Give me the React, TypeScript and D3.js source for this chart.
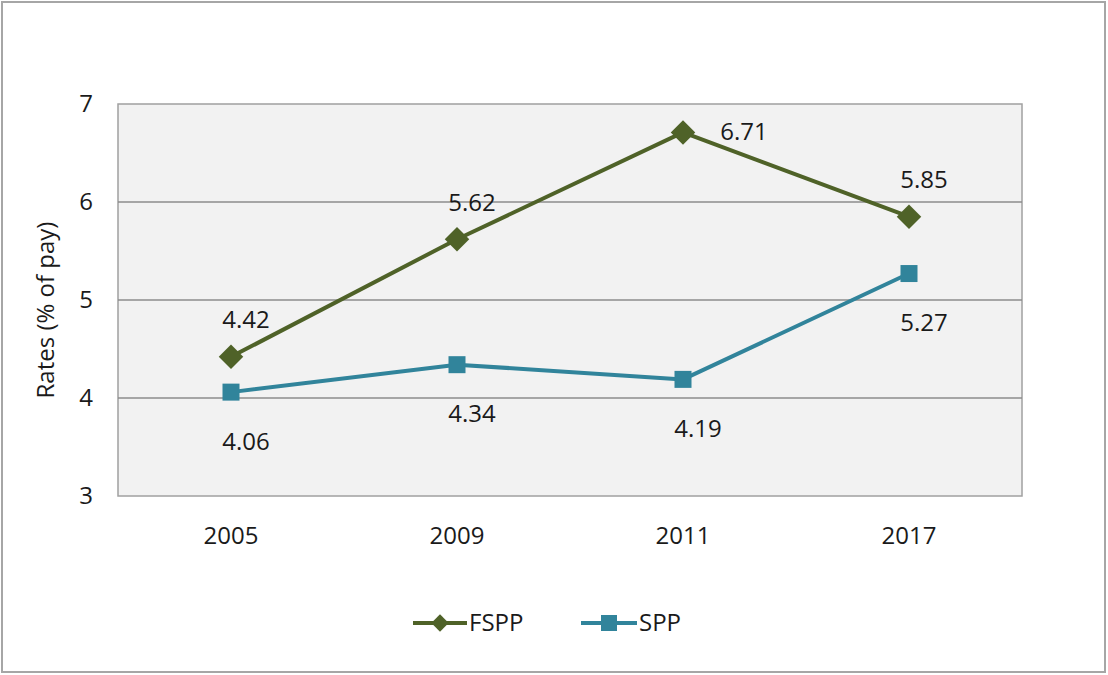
import { useEffect, useRef } from 'react';
import * as d3 from 'd3';

const years = ['2005', '2009', '2011', '2017'];
const fsppValues = [4.42, 5.62, 6.71, 5.85];
const sppValues = [4.06, 4.34, 4.19, 5.27];
const yTicks = [3, 4, 5, 6, 7];

const WIDTH = 1108;
const HEIGHT = 675;
const FONT = '"Open Sans", "Noto Sans", sans-serif';
const TEXT = '#1a1a1a';

const App = () => {
  const svgRef = useRef<SVGSVGElement>(null);

  useEffect(() => {
    if (!svgRef.current) return;
    const root = d3.select(svgRef.current);
    root.selectAll('*').remove();

    const left = 118, right = 1022, top = 104, bottom = 496;

    // outer frame
    root.append('rect')
      .attr('x', 2).attr('y', 2)
      .attr('width', WIDTH - 5).attr('height', HEIGHT - 5)
      .attr('fill', '#fff').attr('stroke', '#a6a6a6').attr('stroke-width', 2);

    const x = d3.scaleBand().domain(years).range([left, right]);
    const y = d3.scaleLinear().domain([3, 7]).range([bottom, top]);
    const cx = (d: string) => (x(d) || 0) + x.bandwidth() / 2;

    // plot area
    root.append('rect')
      .attr('x', left).attr('y', top)
      .attr('width', right - left).attr('height', bottom - top)
      .attr('fill', '#f2f2f2').attr('stroke', '#a0a0a0').attr('stroke-width', 1.5);

    // gridlines
    root.append('g').selectAll('line')
      .data(yTicks.slice(1, -1))
      .join('line')
      .attr('x1', left).attr('x2', right)
      .attr('y1', d => y(d)).attr('y2', d => y(d))
      .attr('stroke', '#8c8c8c').attr('stroke-width', 1.5);

    // y tick labels
    root.append('g').selectAll('text')
      .data(yTicks)
      .join('text')
      .attr('x', 93).attr('y', d => y(d))
      .attr('dy', '0.35em')
      .attr('text-anchor', 'end')
      .attr('font-family', FONT).attr('font-size', 24).attr('fill', TEXT)
      .text(d => d);

    // x labels
    root.append('g').selectAll('text')
      .data(years)
      .join('text')
      .attr('x', d => cx(d)).attr('y', 536)
      .attr('dy', '0.35em')
      .attr('text-anchor', 'middle')
      .attr('font-family', FONT).attr('font-size', 24).attr('fill', TEXT)
      .text(d => d);

    // axis title
    root.append('text')
      .attr('transform', `translate(46, ${(top + bottom) / 2 + 10}) rotate(-90)`)
      .attr('text-anchor', 'middle')
      .attr('dy', '0.35em')
      .attr('font-family', FONT).attr('font-size', 24).attr('fill', TEXT)
      .text('Rates (% of pay)');

    const line = d3.line<number>()
      .x((_, i) => cx(years[i]))
      .y(d => y(d));

    const series = [
      { name: 'FSPP', values: fsppValues, color: '#4f6228', marker: 'diamond' },
      { name: 'SPP', values: sppValues, color: '#31849b', marker: 'square' },
    ];

    series.forEach(s => {
      root.append('path')
        .datum(s.values)
        .attr('d', line)
        .attr('fill', 'none')
        .attr('stroke', s.color)
        .attr('stroke-width', 4)
        .attr('stroke-linejoin', 'round');

      const sym = d3.symbol().type(d3.symbolSquare).size(s.marker === 'diamond' ? 300 : 289);

      root.append('g').selectAll('path')
        .data(s.values)
        .join('path')
        .attr('d', sym())
        .attr('transform', (d, i) =>
          `translate(${cx(years[i])}, ${y(d)})` + (s.marker === 'diamond' ? ' rotate(45)' : ''))
        .attr('fill', s.color);
    });

    // data labels
    const labelPos = (name: string, i: number) => {
      if (name === 'FSPP' && i === 2) return { dx: 61, dy: -1 };
      if (name === 'FSPP') return { dx: 15, dy: -37 };
      return { dx: 15, dy: 49 };
    };

    series.forEach(s => {
      root.append('g').selectAll('text')
        .data(s.values)
        .join('text')
        .attr('x', (_, i) => cx(years[i]) + labelPos(s.name, i).dx)
        .attr('y', (d, i) => y(d) + labelPos(s.name, i).dy)
        .attr('dy', '0.35em')
        .attr('text-anchor', 'middle')
        .attr('font-family', FONT).attr('font-size', 24).attr('fill', TEXT)
        .text(d => d.toFixed(2));
    });

    // legend
    const legendY = 623;
    const legendItems = [
      { ...series[0], x0: 413, x1: 467 },
      { ...series[1], x0: 581, x1: 637 },
    ];
    legendItems.forEach(s => {
      const g = root.append('g');
      g.append('line')
        .attr('x1', s.x0).attr('x2', s.x1)
        .attr('y1', legendY).attr('y2', legendY)
        .attr('stroke', s.color).attr('stroke-width', 4);
      const mid = (s.x0 + s.x1) / 2;
      g.append('path')
        .attr('d', d3.symbol().type(d3.symbolSquare).size(s.marker === 'diamond' ? 150 : 256)())
        .attr('transform', `translate(${mid}, ${legendY})` + (s.marker === 'diamond' ? ' rotate(45)' : ''))
        .attr('fill', s.color);
      g.append('text')
        .attr('x', s.x1 + 2).attr('y', legendY)
        .attr('dy', '0.35em')
        .attr('font-family', FONT).attr('font-size', 24).attr('fill', TEXT)
        .text(s.name);
    });
  }, []);

  return (
    <svg
      ref={svgRef}
      width={WIDTH}
      height={HEIGHT}
      style={{ position: 'absolute', left: 0, top: 0 }}
    />
  );
};

export default App;
